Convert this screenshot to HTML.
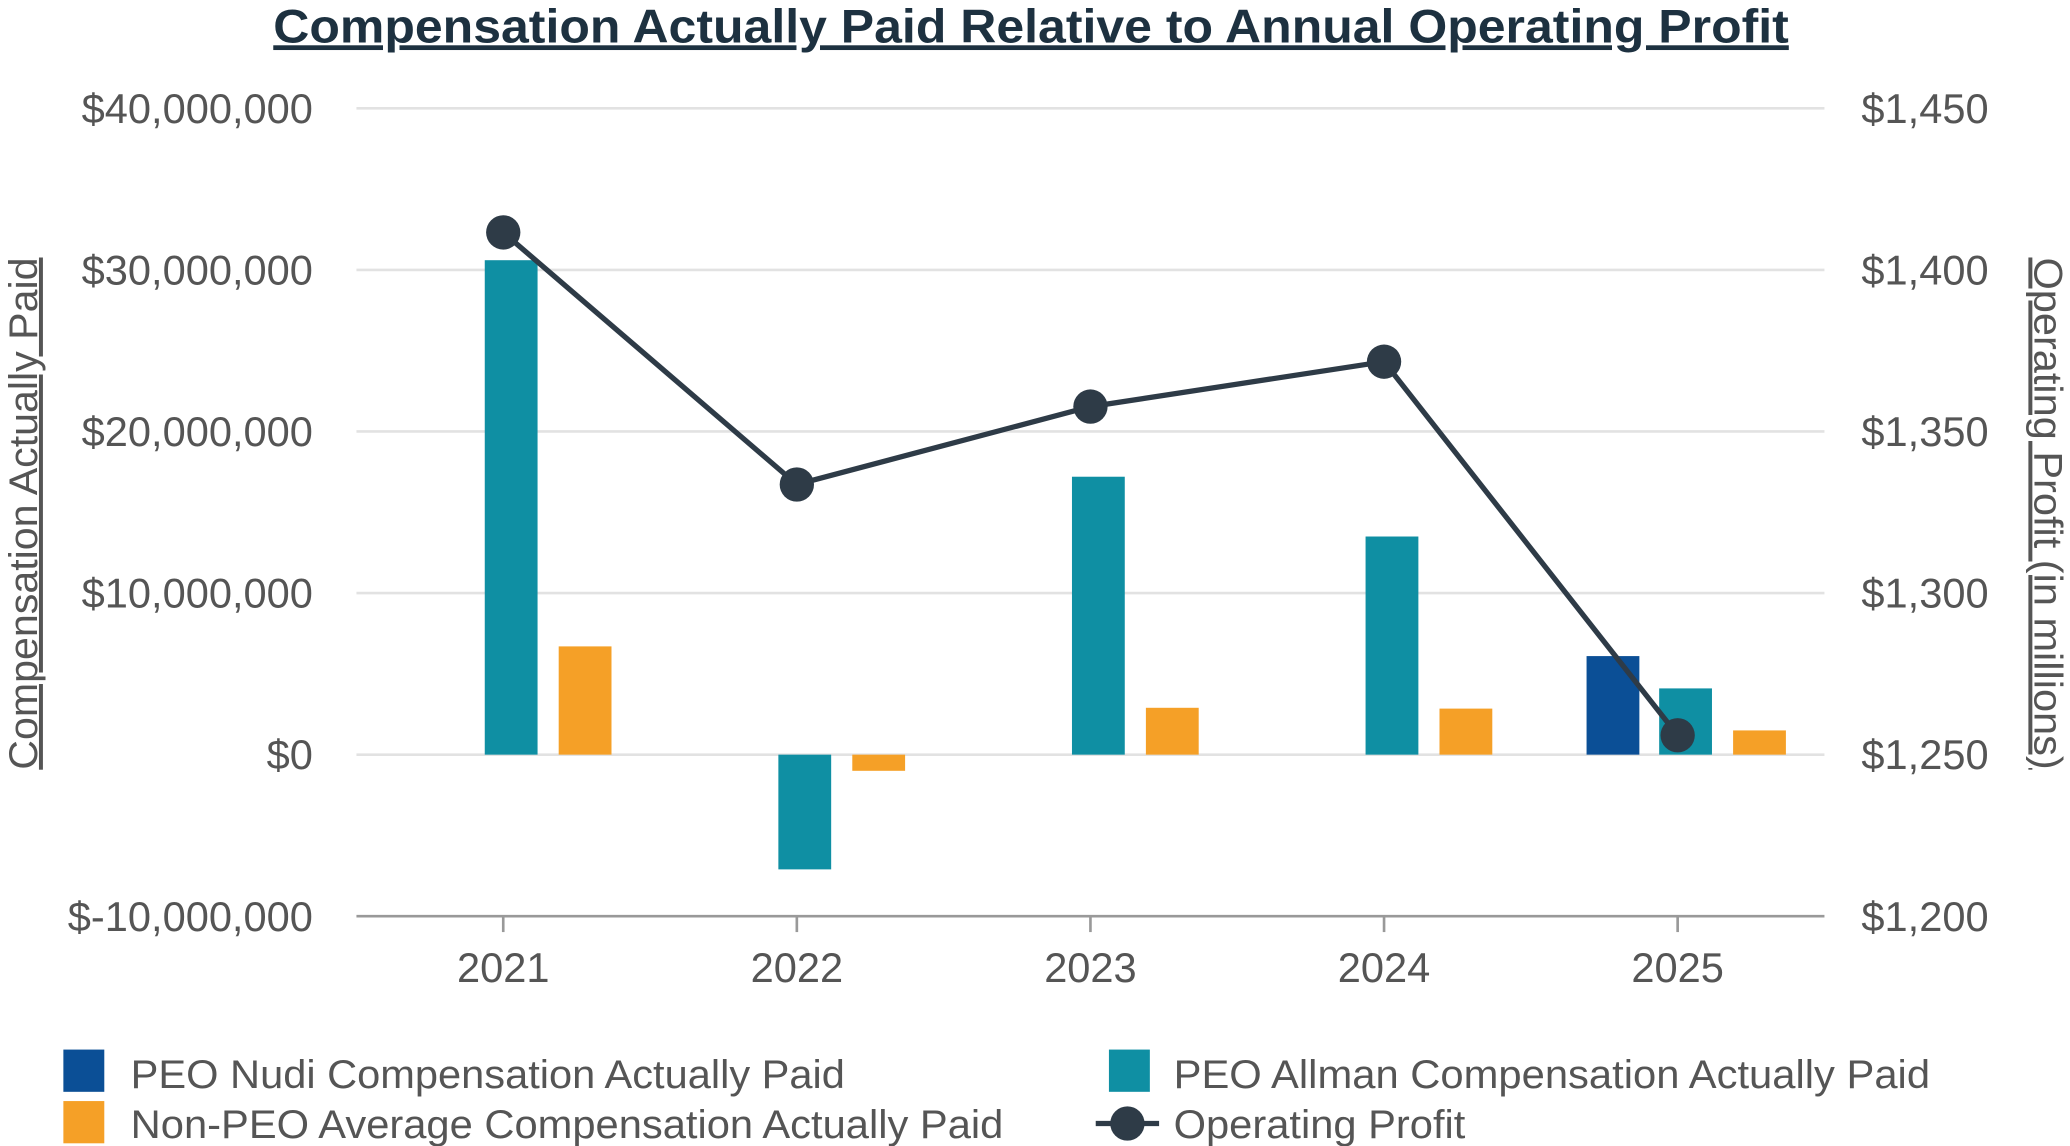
<!DOCTYPE html>
<html><head><meta charset="utf-8"><style>
html,body{margin:0;padding:0;background:#fff;}
svg{display:block;font-family:"Liberation Sans",Arial,sans-serif;}
</style></head><body>
<svg id="chart" width="2070" height="1146" viewBox="0 0 1568 868" xmlns="http://www.w3.org/2000/svg">
<text x="781" y="32" text-anchor="middle" font-size="36" font-weight="bold" fill="#1d3140" text-decoration="underline" textLength="1148" lengthAdjust="spacingAndGlyphs">Compensation Actually Paid Relative to Annual Operating Profit</text>
<g id="grid"></g>
<g id="bars"></g>
<g id="line"></g>
<text transform="translate(28,389) rotate(-90)" text-anchor="middle" font-size="30" fill="#555" text-decoration="underline" textLength="388" lengthAdjust="spacingAndGlyphs">Compensation Actually Paid</text>
<text transform="translate(1541,389) rotate(90)" text-anchor="middle" font-size="30" fill="#555" text-decoration="underline" textLength="388" lengthAdjust="spacingAndGlyphs">Operating Profit (in millions)</text>
<g>
<rect x="48" y="795" width="31" height="32" fill="#0b4f96"/>
<text x="99" y="824" font-size="30" fill="#555" textLength="541" lengthAdjust="spacingAndGlyphs">PEO Nudi Compensation Actually Paid</text>
<rect x="840" y="795" width="31" height="32" fill="#0f8fa3"/>
<text x="889" y="824" font-size="30" fill="#555" textLength="573" lengthAdjust="spacingAndGlyphs">PEO Allman Compensation Actually Paid</text>
<rect x="48" y="834" width="31" height="32" fill="#f5a027"/>
<text x="99" y="862" font-size="30" fill="#555" textLength="661" lengthAdjust="spacingAndGlyphs">Non-PEO Average Compensation Actually Paid</text>
<line x1="830" y1="851" x2="878" y2="851" stroke="#2e3b47" stroke-width="4"/>
<circle cx="854" cy="851" r="13" fill="#2e3b47"/>
<text x="889" y="862" font-size="30" fill="#555" textLength="221" lengthAdjust="spacingAndGlyphs">Operating Profit</text>
</g>
</svg>
<script>
const categories=["2021","2022","2023","2024","2025"];
const nudi=[null,null,null,null,6.1e6];
const allman=[30.6e6,-7.1e6,17.2e6,13.5e6,4.1e6];
const nonPeo=[6.7e6,-1.0e6,2.9e6,2.85e6,1.5e6];
const opProfit=[1411.6,1333.6,1357.7,1371.6,1256];
const leftTicks=[-10e6,0,10e6,20e6,30e6,40e6];
const leftTickLabels=["$-10,000,000","$0","$10,000,000","$20,000,000","$30,000,000","$40,000,000"];
const rightTicks=[1200,1250,1300,1350,1400,1450];
const rightTickLabels=["$1,200","$1,250","$1,300","$1,350","$1,400","$1,450"];

const NS="http://www.w3.org/2000/svg";
const X0=270,X1=1382,YT=82,YB=694;
const yL=v=>YB-(v-(-10e6))/(50e6)*(YB-YT);
const yR=v=>YB-(v-1200)/250*(YB-YT);
const step=(X1-X0)/categories.length;
const xC=i=>X0+step*(i+0.5);
function mk(tag,attrs,parent){const e=document.createElementNS(NS,tag);for(const k in attrs)e.setAttribute(k,attrs[k]);parent.appendChild(e);return e;}
const grid=document.getElementById('grid');
leftTicks.forEach((t,i)=>{
  const y=yL(t);
  const l=mk('line',{x1:X0,x2:X1,y1:y,y2:y,stroke:i===0?'#999':'#e2e2e2','stroke-width':2},grid);
  
  
  const tx=mk('text',{x:237,y:y+11,'text-anchor':'end','font-size':31.5,fill:'#555'},grid);
  tx.textContent=leftTickLabels[i];
  
  
});
rightTicks.forEach((t,i)=>{
  const tx=mk('text',{x:1410,y:yR(t)+11,'font-size':31.5,fill:'#555'},grid);
  tx.textContent=rightTickLabels[i];
  
  
});
categories.forEach((c,i)=>{
  const t=mk('line',{x1:xC(i),x2:xC(i),y1:YB,y2:YB+12,stroke:'#999','stroke-width':2},grid);
  
  
  const tx=mk('text',{x:xC(i),y:744,'text-anchor':'middle','font-size':31.5,fill:'#555'},grid);
  tx.textContent=c;
  
  
});
const bars=document.getElementById('bars');
const series=[[nudi,'#0b4f96',-49,'nudi'],[allman,'#0f8fa3',6,'allman'],[nonPeo,'#f5a027',62,'non-peo']];
const BW=40;
series.forEach(([arr,col,off,nm])=>{
  arr.forEach((v,i)=>{
    if(v===null)return;
    const y0=yL(0),y1=yL(v);
    const r=mk('rect',{x:xC(i)+off-BW/2,y:Math.min(y0,y1),width:BW,height:Math.abs(y1-y0),fill:col},bars);
    
    
  });
});
const lg=document.getElementById('line');
const pts=opProfit.map((v,i)=>xC(i)+','+yR(v)).join(' ');
const pl=mk('polyline',{points:pts,fill:'none',stroke:'#2e3b47','stroke-width':4},lg);


opProfit.forEach((v,i)=>{
  const c=mk('circle',{cx:xC(i),cy:yR(v),r:13,fill:'#2e3b47'},lg);
  
  
});
</script>
</body></html>
